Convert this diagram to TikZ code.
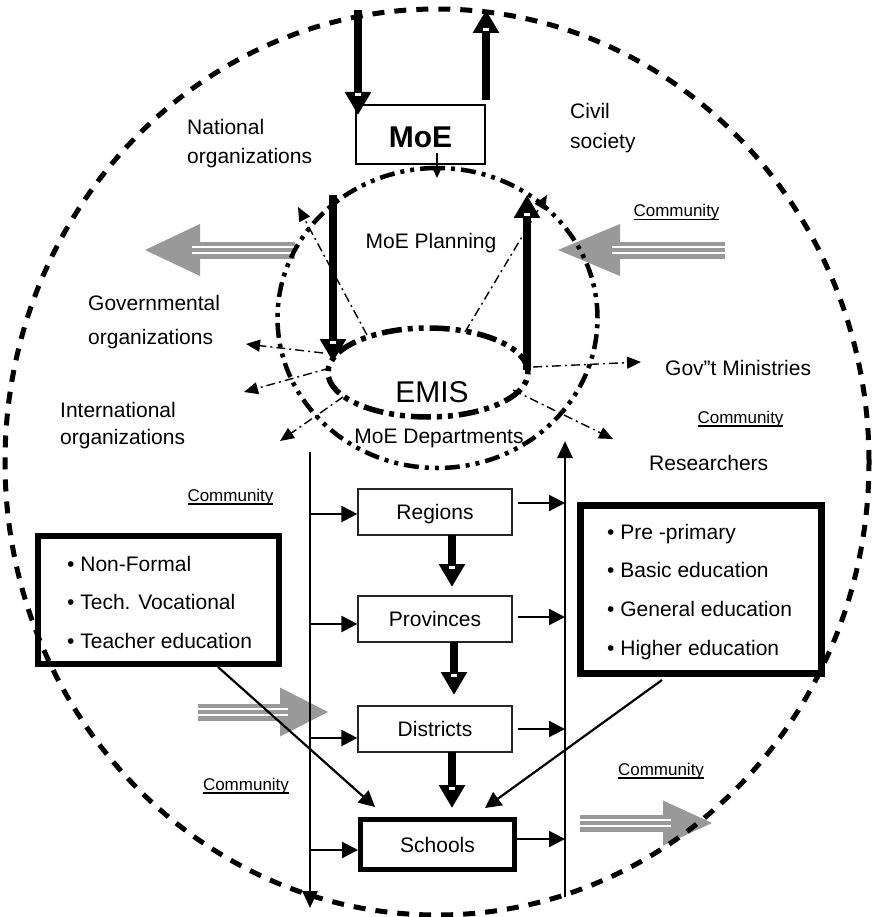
\documentclass[tikz,border=0pt]{standalone}
\usepackage{fontspec}
\setmainfont{Liberation Sans}
\usetikzlibrary{arrows.meta,shapes.geometric,calc}
\definecolor{arrgray}{RGB}{153,153,153}
\newcommand{\mytxt}{\fontsize{21}{24}\selectfont}
\newcommand{\commtxt}{\fontsize{17}{20}\selectfont}
\newcommand{\myul}[1]{\leavevmode\setbox0=\hbox{#1}\rlap{\rule[-3.5pt]{\wd0}{1.6pt}}\box0}
% tail x, y, head base x, tip x, half height, white bar end x
\newcommand{\grayarr}[6]{%
  \fill[arrgray] (#1,{#2-8.5}) rectangle (#3,{#2+8.5});
  \fill[arrgray] (#3,{#2-#5}) -- (#4,#2) -- (#3,{#2+#5}) -- cycle;
  \draw[white,line width=1.8pt] (#1,{#2-3}) -- (#6,{#2-3}) (#1,{#2+3}) -- (#6,{#2+3});
}
\newcommand{\thickarr}[2]{%
  \draw[thickarrow] (#1) -- (#2);
  \fill[white] ($(#2)!20pt!(#1)$) +(-3pt,-1.5pt) rectangle +(3pt,1.5pt);
}
\begin{document}
\begin{tikzpicture}[x=1pt,y=-1pt,
  bigcircle/.style={draw, line width=5pt, dash pattern=on 12pt off 10pt, ellipse, inner sep=0},
  plancircle/.style={draw, line width=4.5pt, dash pattern=on 15pt off 6pt on 4pt off 6pt on 4pt off 6pt, ellipse, inner sep=0},
  emisell/.style={draw, line width=5.5pt, dash pattern=on 20pt off 6pt on 5pt off 6pt on 5pt off 6pt, ellipse, inner sep=0},
  thickarrow/.style={line width=8pt, -{Triangle[length=23pt,width=25pt]}},
  dd/.style={line width=1.4pt, dash pattern=on 9pt off 4pt on 2pt off 4pt, -{Triangle[length=14pt,width=12pt]}},
  conn/.style={line width=2.2pt, -{Triangle[length=16pt,width=16pt]}},
  vline/.style={line width=2.8pt, -{Triangle[length=17pt,width=15pt]}},
  lbl/.style={font=\mytxt, inner sep=0, anchor=base west},
  comm/.style={font=\commtxt, inner sep=0, anchor=base},
  thinbox/.style={draw=black!85, line width=1.2pt, minimum width=154pt, minimum height=46pt, inner sep=0, font=\mytxt, text height=15pt, text depth=0pt},
  bigbox/.style={draw, inner sep=0},
  item/.style={font=\mytxt, inner sep=0, anchor=base west}
]
\useasboundingbox (0,0) rectangle (871,917);

% grey community arrows
\grayarr{295}{250}{200}{145}{26}{192}
\grayarr{725}{250}{620}{558}{26}{612}
\grayarr{198}{712}{280}{328}{24.5}{288}
\grayarr{580}{823}{663}{712}{22.5}{671}

% outer dashed circle
\node[bigcircle, minimum width=864pt, minimum height=906pt] (outer) at (437,462) {};

% planning circle and EMIS ellipse
\node[plancircle, minimum width=320pt, minimum height=300pt] (plan) at (437.5,318) {};
\node[emisell, minimum width=200pt, minimum height=89pt] (emis) at (428,372.5) {};

% texts
\node[inner sep=0, anchor=base, font=\mytxt] (planlbl) at (431,248) {MoE Planning};
\node[inner sep=0, anchor=base, font=\fontsize{30}{32}\selectfont] (emislbl) at (432,402) {EMIS};
\node[inner sep=0, anchor=base, font=\mytxt] (deplbl) at (439,443.5) {MoE Departments};

\node[lbl] (nat1) at (187,135) {National};
\node[lbl] (nat2) at (187,164) {organizations};
\node[lbl] (civ1) at (570,119) {Civil};
\node[lbl] (civ2) at (570,149) {society};
\node[lbl] (gov1) at (88,310) {Governmental};
\node[lbl] (gov2) at (88,344) {organizations};
\node[lbl] (int1) at (60,417) {International};
\node[lbl] (int2) at (60,444) {organizations};
\node[lbl] (min) at (665,375) {Gov''t Ministries};
\node[lbl] (res) at (649,470) {Researchers};

\node[comm] (c1) at (676.5,217) {\myul{Community}};
\node[comm] (c2) at (740.5,423) {\myul{Community}};
\node[comm] (c3) at (230.5,501) {\myul{Community}};
\node[comm] (c4) at (246,790) {\myul{Community}};
\node[comm] (c5) at (661,775) {\myul{Community}};

% MoE box
\node[draw, line width=2pt, minimum width=129pt, minimum height=59pt, inner sep=0,
      font=\bfseries\fontsize{30}{32}\selectfont, text height=27pt, text depth=0pt] (moe) at (420.5,134.5) {MoE};

% thick arrows
\coordinate (a1s) at (358,10);  \coordinate (a1e) at (358,115);
\coordinate (a2s) at (486,100); \coordinate (a2e) at (486,10);
\coordinate (p1s) at (333,195); \coordinate (p1e) at (333,362);
\coordinate (p2s) at (527,370); \coordinate (p2e) at (527,195);
\thickarr{a1s}{a1e}
\thickarr{a2s}{a2e}
\thickarr{p1s}{p1e}
\thickarr{p2s}{p2e}

% small arrow MoE -> planning
\coordinate (m1) at (437,153); \coordinate (m2) at (437,178);
\draw[line width=1.5pt, -{Triangle[length=12pt,width=11pt]}] (m1) -- (m2);

% dash-dot arrows
\coordinate (d1s) at (367,335); \coordinate (d1e) at (298,207);
\coordinate (d2s) at (465,332); \coordinate (d2e) at (547,195);
\coordinate (d3s) at (323,353); \coordinate (d3e) at (246,344);
\coordinate (d4s) at (330,368); \coordinate (d4e) at (244,392);
\coordinate (d5s) at (343,397); \coordinate (d5e) at (280,441);
\coordinate (d6s) at (533,367); \coordinate (d6e) at (641,362);
\coordinate (d7s) at (513,390); \coordinate (d7e) at (613,439);
\foreach \i in {1,...,7} { \draw[dd] (d\i s) -- (d\i e); }

% level boxes
\node[thinbox] (reg)  at (435,512) {Regions};
\node[thinbox] (prov) at (435,619) {Provinces};
\node[thinbox] (dist) at (435,729) {Districts};
\node[thinbox, draw=black, line width=5pt, minimum height=50pt] (sch) at (437.5,844.5) {Schools};

% thick arrows between boxes
\coordinate (r1) at (452,535); \coordinate (r2) at (452,587);
\coordinate (r3) at (454,642); \coordinate (r4) at (454,695);
\coordinate (r5) at (452,752); \coordinate (r6) at (452,808);
\thickarr{r1}{r2}
\thickarr{r3}{r4}
\thickarr{r5}{r6}

% vertical lines
\coordinate (lt) at (310,452); \coordinate (lb) at (310,908);
\coordinate (rb) at (565,897); \coordinate (rt) at (565,441);
\draw[vline] (lt) -- (lb);
\draw[vline] (rb) -- (rt);

% branches from left line
\draw[conn] ([yshift=-2pt]reg.west -| lt) -- ([yshift=-2pt]reg.west);
\draw[conn] ([yshift=-5pt]prov.west -| lt) -- ([yshift=-5pt]prov.west);
\draw[conn] ([yshift=-9pt]dist.west -| lt) -- ([yshift=-9pt]dist.west);
\draw[conn] ([yshift=-5.5pt]sch.west -| lt) -- ([yshift=-5.5pt]sch.west);

% branches to right line
\draw[conn] ([xshift=5pt,yshift=9pt]reg.east) -- ([yshift=9pt]reg.east -| rt);
\draw[conn] ([xshift=5pt,yshift=2pt]prov.east) -- ([yshift=2pt]prov.east -| rt);
\draw[conn] ([xshift=5pt]dist.east) -- (dist.east -| rt);
\draw[conn] ([yshift=5.5pt]sch.east) -- ([yshift=5.5pt]sch.east -| rt);

% side boxes
\node[bigbox, line width=6pt, minimum width=241pt, minimum height=128pt] (lbox) at (158.5,600) {};
\node[item] (l1) at (67,571) {\textbullet\ Non-Formal};
\node[item] (l2) at (67,609) {\textbullet\ Tech. Vocational};
\node[item] (l3) at (67,648) {\textbullet\ Teacher education};

\node[bigbox, line width=7pt, minimum width=241pt, minimum height=168pt] (rbox) at (701,589.5) {};
\node[item] (q1) at (607,539) {\textbullet\ Pre -primary};
\node[item] (q2) at (607,577) {\textbullet\ Basic education};
\node[item] (q3) at (607,616) {\textbullet\ General education};
\node[item] (q4) at (607,655) {\textbullet\ Higher education};

% diagonals to schools
\coordinate (g1s) at (218,667); \coordinate (g1e) at (375,807);
\coordinate (g2s) at (662,680); \coordinate (g2e) at (485,808);
\draw[conn] (g1s) -- (g1e);
\draw[conn] (g2s) -- (g2e);
\end{tikzpicture}
\end{document}
